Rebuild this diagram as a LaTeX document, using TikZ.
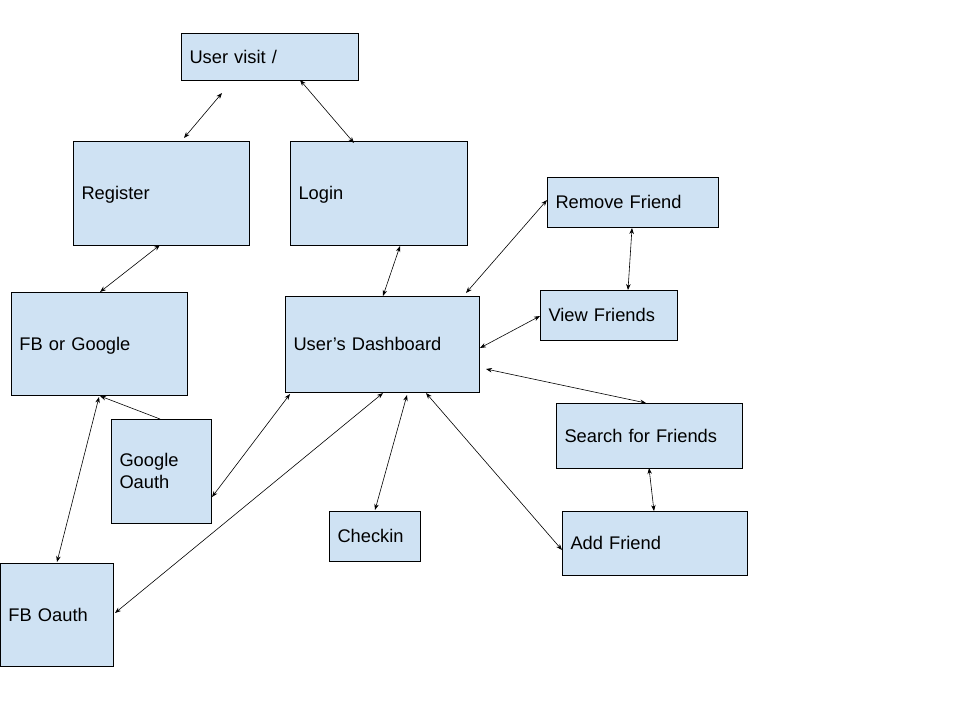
\documentclass[tikz,border=0pt]{standalone}
\usepackage{fontspec}
\setmainfont{Liberation Sans}
\usetikzlibrary{arrows.meta}
\definecolor{boxblue}{HTML}{CFE2F3}
\begin{document}
\begin{tikzpicture}[x=1pt,y=-1pt,
    >={Stealth[length=6pt,width=4.5pt]},
    box/.style 2 args={draw=black, fill=boxblue, line width=0.8pt, anchor=north west, outer sep=0pt,
        inner xsep=8.5pt, inner ysep=0pt, align=left, font=\fontsize{18.3}{21.8}\selectfont,
        text height=13pt, text depth=0pt,
        minimum width=#1pt, minimum height=#2pt, text width={#1pt-17pt}},
    link/.style={<->, line width=0.6pt},
    feed/.style={->, line width=0.6pt}]
    \useasboundingbox (0,0) rectangle (960,720);
    \node[box={177}{47}] (visit) at (181,33) {User visit /};
    \node[box={176}{104}] (reg) at (73,141) {Register};
    \node[box={177}{104}] (login) at (290,141) {Login};
    \node[box={171}{50}] (remove) at (547,177) {Remove Friend};
    \node[box={176}{103}] (fbg) at (11,292) {FB or Google};
    \node[box={194}{96}] (dash) at (285,296) {User’s Dashboard};
    \node[box={137}{50}] (view) at (540,290) {View Friends};
    \node[box={186}{65}] (search) at (556,403) {Search for Friends};
    \node[box={100}{104}, text depth=21.8pt] (goauth) at (111,419) {Google\\Oauth};
    \node[box={91}{50}] (checkin) at (329,511) {Checkin};
    \node[box={185}{64}] (add) at (562,511) {Add Friend};
    \node[box={113}{103}] (fboauth) at (0,563) {FB Oauth};
    \draw[link] ([shift={(41,13)}]visit.south west) -- ([shift={(111,-3)}]reg.north west);
    \draw[link] ([shift={(119,0)}]visit.south west) -- ([shift={(64,2)}]login.north west);
    \draw[link] ([shift={(87,0)}]reg.south west) -- ([shift={(89,0)}]fbg.north west);
    \draw[feed] ([shift={(49,0)}]goauth.north west) -- ([shift={(89,1)}]fbg.south west);
    \draw[link] ([shift={(88,2)}]fbg.south west) -- ([shift={(57,-1)}]fboauth.north west);
    \draw[link] ([shift={(110,1)}]login.south west) -- ([shift={(98,0)}]dash.north west);
    \draw[link] ([shift={(181,-3)}]dash.north west) -- ([shift={(0,23)}]remove.north west);
    \draw[link] ([shift={(85,1)}]remove.south west) -- ([shift={(88,0)}]view.north west);
    \draw[link] ([shift={(0,26)}]view.north west) -- ([shift={(1,52)}]dash.north east);
    \draw[link] ([shift={(7,73)}]dash.north east) -- ([shift={(90,0)}]search.north west);
    \draw[link] ([shift={(93,0)}]search.south west) -- ([shift={(92,0)}]add.north west);
    \draw[link] ([shift={(141,1)}]dash.south west) -- ([shift={(0,39)}]add.north west);
    \draw[link] ([shift={(46,-1)}]checkin.north west) -- ([shift={(122,3)}]dash.south west);
    \draw[link] ([shift={(5,2)}]dash.south west) -- ([shift={(1,78)}]goauth.north east);
    \draw[link] ([shift={(98,1)}]dash.south west) -- ([shift={(2,50)}]fboauth.north east);
\end{tikzpicture}
\end{document}
